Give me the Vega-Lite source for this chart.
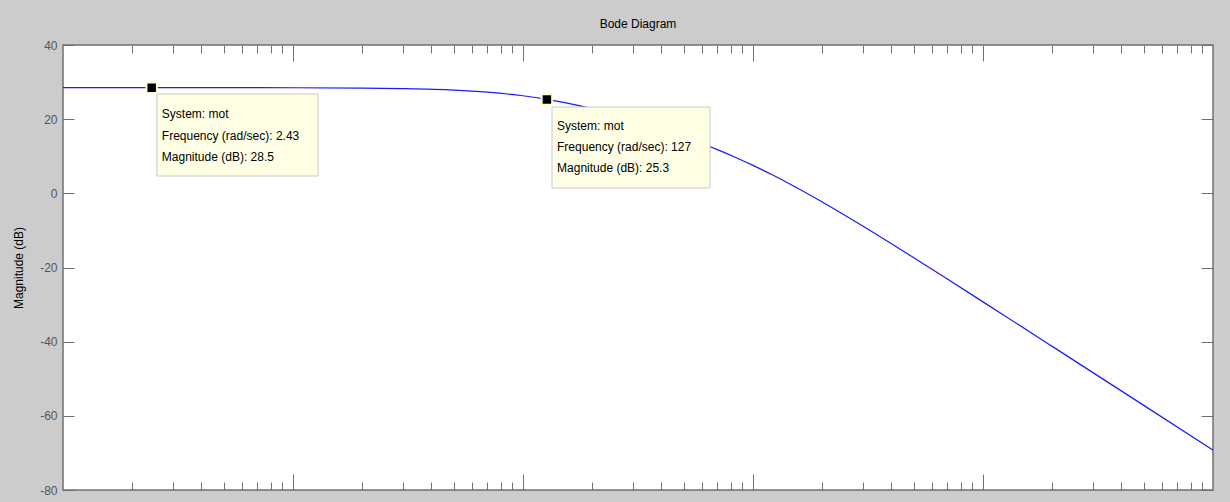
{
  "$schema": "https://vega.github.io/schema/vega-lite/v6.json",
  "width": 1150,
  "height": 445,
  "autosize": {"type": "none"},
  "padding": {"left": 63, "top": 45, "right": 17, "bottom": 12},
  "background": "#cccccc",
  "config": {
    "font": "Liberation Sans",
    "view": {"fill": "white", "stroke": "#707070", "strokeWidth": 1.5},
    "axis": {"domain": false, "grid": false, "tickColor": "#707070", "tickWidth": 1, "labelColor": "#555555", "labelFont": "Liberation Sans", "labelFontSize": 12, "titleFont": "Liberation Sans", "titleFontSize": 12, "titleFontWeight": "normal", "titleColor": "#000000"}
  },
  "title": {"text": "Bode Diagram", "fontSize": 12, "fontWeight": "normal", "font": "Liberation Sans", "color": "#000000", "anchor": "middle", "offset": 8},
  "datasets": {
    "curve": [
      {"freq": 1, "db": 28.5}, {"freq": 2, "db": 28.5}, {"freq": 5, "db": 28.49}, {"freq": 10, "db": 28.47},
      {"freq": 20, "db": 28.39}, {"freq": 30, "db": 28.25}, {"freq": 50, "db": 27.85}, {"freq": 70, "db": 27.29},
      {"freq": 100, "db": 26.31}, {"freq": 127, "db": 25.36}, {"freq": 150, "db": 24.54}, {"freq": 200, "db": 22.83},
      {"freq": 250, "db": 21.27}, {"freq": 300, "db": 19.85}, {"freq": 400, "db": 17.39}, {"freq": 500, "db": 15.29},
      {"freq": 600, "db": 13.44}, {"freq": 700, "db": 11.78}, {"freq": 850, "db": 9.54}, {"freq": 1000, "db": 7.53},
      {"freq": 1200, "db": 5.13}, {"freq": 1500, "db": 2.0}, {"freq": 2000, "db": -2.32}, {"freq": 3000, "db": -8.81},
      {"freq": 5000, "db": -17.37}, {"freq": 7000, "db": -23.12}, {"freq": 10000, "db": -29.27}, {"freq": 20000, "db": -41.27},
      {"freq": 50000, "db": -57.18}, {"freq": 100000, "db": -69.22}
    ],
    "boxes": [
      {"x1": 2.56, "x2": 12.84, "y1": 26.79, "y2": 4.67},
      {"x1": 133.7, "x2": 650.3, "y1": 23.28, "y2": 1.43}
    ],
    "markers": [
      {"freq": 2.43, "db": 28.5},
      {"freq": 127, "db": 25.3}
    ],
    "labels": [
      {"freq": 2.69, "db": 21.39, "text": "System: mot"},
      {"freq": 2.69, "db": 15.46, "text": "Frequency (rad/sec): 2.43"},
      {"freq": 2.69, "db": 9.79, "text": "Magnitude (dB): 28.5"},
      {"freq": 140.6, "db": 18.16, "text": "System: mot"},
      {"freq": 140.6, "db": 12.49, "text": "Frequency (rad/sec): 127"},
      {"freq": 140.6, "db": 6.83, "text": "Magnitude (dB): 25.3"}
    ]
  },
  "resolve": {"axis": {"x": "independent", "y": "independent"}},
  "layer": [
    {
      "data": {"name": "curve"},
      "mark": {"type": "line", "color": "#1a1aff", "strokeWidth": 1.2, "interpolate": "monotone", "clip": true},
      "encoding": {
        "x": {"field": "freq", "type": "quantitative", "scale": {"type": "log", "domain": [1, 100000]},
          "axis": {"orient": "bottom", "labels": false, "title": null,
            "values": [2,3,4,5,6,7,8,9,10,20,30,40,50,60,70,80,90,100,200,300,400,500,600,700,800,900,1000,2000,3000,4000,5000,6000,7000,8000,9000,10000,20000,30000,40000,50000,60000,70000,80000,90000],
            "tickSize": {"condition": {"test": "indexof([10,100,1000,10000], datum.value) >= 0", "value": -16}, "value": -8}}},
        "y": {"field": "db", "type": "quantitative", "scale": {"domain": [-80, 40], "nice": false, "zero": false},
          "axis": {"orient": "left", "title": "Magnitude (dB)", "values": [-80,-60,-40,-20,0,20,40], "labelExpr": "'' + datum.value", "tickSize": -11, "labelPadding": 17, "titlePadding": 14}}
      }
    },
    {
      "data": {"name": "boxes"},
      "mark": {"type": "rect", "fill": "#ffffe6", "stroke": "#c8c8c8", "strokeWidth": 1},
      "encoding": {
        "x": {"field": "x1", "type": "quantitative", "scale": {"type": "log", "domain": [1, 100000]},
          "axis": {"orient": "top", "labels": false, "title": null,
            "values": [2,3,4,5,6,7,8,9,10,20,30,40,50,60,70,80,90,100,200,300,400,500,600,700,800,900,1000,2000,3000,4000,5000,6000,7000,8000,9000,10000,20000,30000,40000,50000,60000,70000,80000,90000],
            "tickSize": {"condition": {"test": "indexof([10,100,1000,10000], datum.value) >= 0", "value": -16}, "value": -8}}},
        "x2": {"field": "x2"},
        "y": {"field": "y1", "type": "quantitative", "scale": {"domain": [-80, 40], "nice": false, "zero": false},
          "axis": {"orient": "right", "title": null, "labels": false, "values": [-80,-60,-40,-20,0,20,40], "tickSize": -12}},
        "y2": {"field": "y2"}
      }
    },
    {
      "data": {"name": "markers"},
      "mark": {"type": "point", "shape": "square", "filled": true, "fill": "#000000", "stroke": "#ffffcc", "strokeWidth": 2, "size": 110, "opacity": 1},
      "encoding": {
        "x": {"field": "freq", "type": "quantitative", "axis": null},
        "y": {"field": "db", "type": "quantitative", "axis": null}
      }
    },
    {
      "data": {"name": "labels"},
      "mark": {"type": "text", "align": "left", "baseline": "middle", "fontSize": 12, "font": "Liberation Sans", "color": "#000000"},
      "encoding": {
        "x": {"field": "freq", "type": "quantitative", "axis": null},
        "y": {"field": "db", "type": "quantitative", "axis": null},
        "text": {"field": "text"}
      }
    }
  ]
}
